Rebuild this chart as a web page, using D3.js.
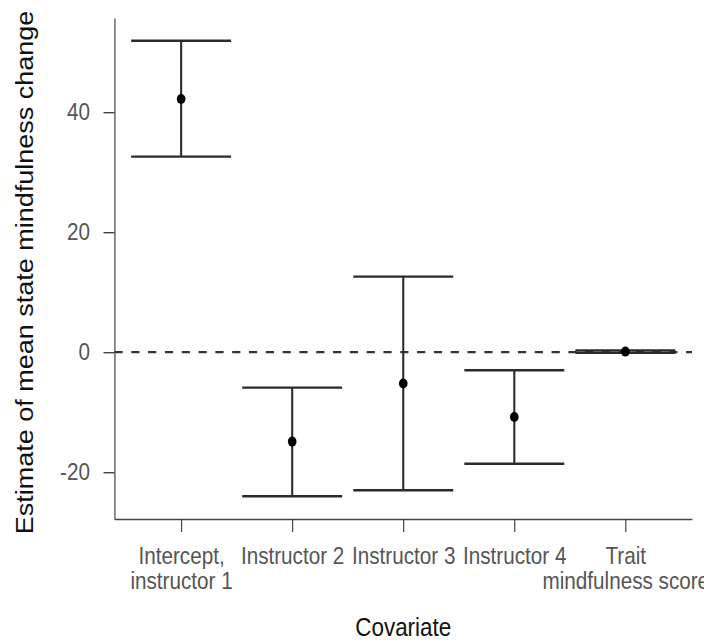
<!DOCTYPE html>
<html>
<head>
<meta charset="utf-8">
<script src="https://cdn.jsdelivr.net/npm/d3@7"></script>
<style>
  body { margin: 0; background: #fff; }
  svg { display: block; }
</style>
</head>
<body>
<svg id="chart"></svg>
<script>
// Values
const categories = ["Intercept,\ninstructor 1", "Instructor 2", "Instructor 3", "Instructor 4", "Trait\nmindfulness score"];
const estimates = [42.2, -14.9, -5.2, -10.8, 0.1];
const lower = [32.6, -24.0, -23.0, -18.6, -0.1];
const upper = [51.9, -5.9, 12.6, -3.0, 0.3];
const yTicks = [-20, 0, 20, 40];

const width = 704;
const height = 640;
// the source image is squeezed horizontally, so draw in a wider viewBox
const sx = 1.16;
const plotLeft = 114.5, plotRight = 692, plotTop = 18, plotBottom = 519;
const font = "'Liberation Sans', Arial, sans-serif";

const rows = categories.map((c, i) => ({ name: c, est: estimates[i], lo: lower[i], hi: upper[i] }));

const svg = d3.select("#chart")
    .attr("width", width)
    .attr("height", height)
    .attr("viewBox", `0 0 ${width * sx} ${height}`)
    .attr("preserveAspectRatio", "none");

const x = d3.scalePoint()
    .domain(categories)
    .range([plotLeft * sx, plotRight * sx])
    .padding(0.6);

// ggplot style 5% expansion of the data range
const yMin = d3.min(lower), yMax = d3.max(upper);
const pad = (yMax - yMin) * 0.05;
const y = d3.scaleLinear()
    .domain([yMin - pad, yMax + pad])
    .range([plotBottom, plotTop]);

// Axes (plain hyphen for negatives, as in the original)
const yAxis = svg.append("g")
    .attr("transform", `translate(${plotLeft * sx},0)`)
    .call(d3.axisLeft(y).tickValues(yTicks).tickSize(11 * sx).tickSizeOuter(0).tickPadding(13.5 * sx).tickFormat(d => String(d)));

const xAxis = svg.append("g")
    .attr("transform", `translate(0,${plotBottom})`)
    .call(d3.axisBottom(x).tickSize(13).tickSizeOuter(0));

[yAxis, xAxis].forEach(g => {
    g.select(".domain").attr("stroke", "#444").attr("stroke-width", 1.4);
    g.selectAll(".tick line").attr("stroke", "#444").attr("stroke-width", 1.4);
    g.selectAll(".tick text")
        .attr("fill", "#555")
        .attr("font-family", font)
        .attr("font-size", 24);
});

// multi-line category labels
xAxis.selectAll(".tick text").each(function (d) {
    const t = d3.select(this);
    t.text(null).attr("dy", null).attr("y", null);
    d.split("\n").forEach((line, i) => {
        t.append("tspan").attr("x", 0).attr("y", 45 + i * 25).text(line);
    });
});

// Reference line at zero
svg.append("line")
    .attr("x1", plotLeft * sx)
    .attr("x2", plotRight * sx)
    .attr("y1", y(0))
    .attr("y2", y(0))
    .attr("stroke", "#333")
    .attr("stroke-width", 2.2)
    .attr("stroke-dasharray", "9.5,10");

// Error bars
const hw = x.step() * 0.45;
const bars = svg.append("g")
    .attr("stroke", "#2b2b2b")
    .attr("stroke-width", 2.4);

bars.selectAll("line.v")
    .data(rows)
    .join("line")
    .attr("class", "v")
    .attr("x1", d => x(d.name))
    .attr("x2", d => x(d.name))
    .attr("y1", d => y(d.lo))
    .attr("y2", d => y(d.hi));

bars.selectAll("line.cap")
    .data(rows.flatMap(d => [{ name: d.name, v: d.lo }, { name: d.name, v: d.hi }]))
    .join("line")
    .attr("class", "cap")
    .attr("x1", d => x(d.name) - hw)
    .attr("x2", d => x(d.name) + hw)
    .attr("y1", d => y(d.v))
    .attr("y2", d => y(d.v));

// Point estimates
svg.append("g")
    .selectAll("circle")
    .data(rows)
    .join("circle")
    .attr("cx", d => x(d.name))
    .attr("cy", d => y(d.est))
    .attr("r", 5)
    .attr("fill", "#000");

// Axis titles
svg.append("text")
    .attr("x", (plotLeft + plotRight) / 2 * sx)
    .attr("y", 636)
    .attr("text-anchor", "middle")
    .attr("font-family", font)
    .attr("font-size", 26)
    .attr("fill", "#111")
    .text("Covariate");

svg.append("text")
    .attr("transform", `translate(${33.3 * sx},${(plotTop + plotBottom) / 2 + 4}) rotate(-90)`)
    .attr("text-anchor", "middle")
    .attr("font-family", font)
    .attr("font-size", 27)
    .attr("fill", "#111")
    .text("Estimate of mean state mindfulness change");
</script>
</body>
</html>
